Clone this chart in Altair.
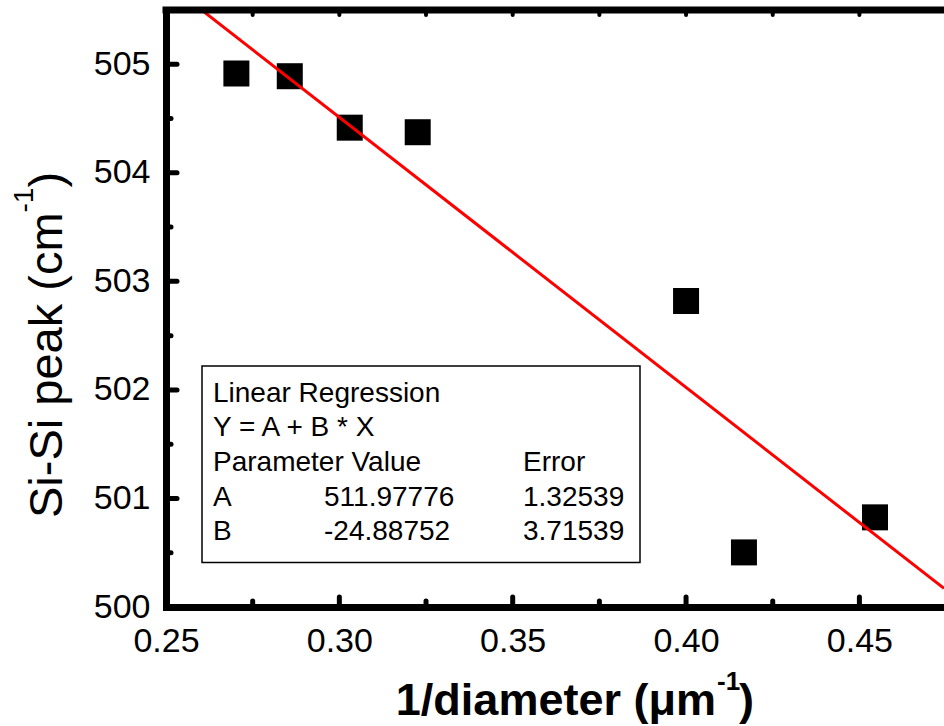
import altair as alt
import pandas as pd

# ---- data ----
inv_diameter = [0.2703, 0.2857, 0.3030, 0.3226, 0.4000, 0.4167, 0.4545]
si_peak = [504.915, 504.890, 504.416, 504.374, 502.819, 500.503, 500.826]

fit_A = 511.97776
fit_B = -24.88752

x_domain = [0.25, 0.4744]
y_domain = [500.0, 505.5]
x_major = [0.25, 0.30, 0.35, 0.40, 0.45]
x_minor = [0.275, 0.325, 0.375, 0.425]
x_top = [0.275, 0.30, 0.325, 0.35, 0.375, 0.40, 0.425, 0.45]
y_major = [500, 501, 502, 503, 504, 505]
y_minor = [500.5, 501.5, 502.5, 503.5, 504.5]

box_col1 = ["Linear Regression", "Y = A + B * X", "Parameter Value", "A", "B"]
box_col2 = ["", "", "", "511.97776", "-24.88752"]
box_col3 = ["", "", "Error", "1.32539", "3.71539"]

x_title_parts = ["1/diameter (\u03bcm", "-1", ")"]
y_title_parts = ["Si-Si peak (cm", "-1", ")"]

FONT = "Liberation Sans"
W, H = 778, 597

pts = pd.DataFrame({"x": inv_diameter, "y": si_peak})
fit = pd.DataFrame({"x": x_domain, "y": [fit_A + fit_B * v for v in x_domain]})
one = pd.DataFrame({"k": [0]})

xscale = alt.Scale(domain=x_domain, nice=False, zero=False)
yscale = alt.Scale(domain=y_domain, nice=False, zero=False)

xaxis = alt.Axis(values=x_major, format=".2f", title=None, ticks=False, tickSize=0,
                 domain=True, domainWidth=7, domainColor="black", domainCap="square",
                 grid=False, labelFont=FONT, labelFontSize=34, labelColor="black",
                 labelPadding=17, labelFlush=False, labelOverlap=False)
yaxis = alt.Axis(values=y_major, format="d", title=None, ticks=False, tickSize=0,
                 domain=True, domainWidth=7, domainColor="black", domainCap="square",
                 grid=False, labelFont=FONT, labelFontSize=34, labelColor="black",
                 labelPadding=16, labelFlush=False, labelOverlap=False)

X = alt.X("x:Q", scale=xscale, axis=xaxis)
Y = alt.Y("y:Q", scale=yscale, axis=yaxis)

points = alt.Chart(pts).mark_square(size=676, color="black", opacity=1).encode(x=X, y=Y)
line = alt.Chart(fit).mark_line(color="#ff0000", strokeWidth=3, clip=True).encode(x=X, y=Y)

# inward ticks
def xticks(vals, y1, y2, width):
    return alt.Chart(pd.DataFrame({"x": vals})).mark_rule(
        color="black", strokeWidth=width, strokeCap="round"
    ).encode(x=X, y=alt.value(y1), y2=alt.value(y2))

def yticks(vals, x1, x2, width):
    return alt.Chart(pd.DataFrame({"y": vals})).mark_rule(
        color="black", strokeWidth=width, strokeCap="round"
    ).encode(y=Y, x=alt.value(x1), x2=alt.value(x2))

bmaj = xticks(x_major, H, H - 10, 5)
bmin = xticks(x_minor, H, H - 6, 5)
lmaj = yticks(y_major, 0, 11, 5)
lmin = yticks(y_minor, 0, 5, 5)
tticks = xticks(x_top, 0, 5, 4)

top_spine = alt.Chart(one).mark_rule(color="black", strokeWidth=7, strokeCap="square").encode(
    x=alt.value(0), x2=alt.value(W), y=alt.value(0))

# regression box
box = alt.Chart(one).mark_rect(fill="white", stroke="black", strokeWidth=1.5).encode(
    x=alt.value(36), x2=alt.value(474), y=alt.value(356), y2=alt.value(552.5))


def txt(s, xpos, ypos, size, weight="normal", align="left", angle=0):
    return alt.Chart(one).mark_text(
        align=align, baseline="alphabetic", font=FONT, fontSize=size,
        fontWeight=weight, angle=angle, color="black"
    ).encode(x=alt.value(xpos), y=alt.value(ypos), text=alt.value(s))

box_layers = []
first_baseline, line_step = 391.7, 34.6
for col, xpos in ((box_col1, 47), (box_col2, 158), (box_col3, 357)):
    for i, s in enumerate(col):
        if s:
            box_layers.append(txt(s, xpos, first_baseline + i * line_step, 28))

# axis titles with superscripts
xt_main = txt(x_title_parts[0], 550, 705, 45, "bold", "right")
xt_sup = txt(x_title_parts[1], 551, 680, 26, "bold", "left")
xt_par = txt(x_title_parts[2], 573, 705, 45, "bold", "left")

ymain_size = 47
y_start = 508
y_main_end = y_start - 6.501 * ymain_size
y_sup_end = y_main_end - 0.889 * 28
yt_main = txt(y_title_parts[0], -104, y_start, ymain_size, "normal", "left", 270)
yt_sup = txt(y_title_parts[1], -133, y_main_end, 28, "normal", "left", 270)
yt_par = txt(y_title_parts[2], -104, y_sup_end, ymain_size, "normal", "left", 270)

chart = alt.layer(
    box, *box_layers, points, line, bmaj, bmin, lmaj, lmin, tticks, top_spine,
    xt_main, xt_sup, xt_par, yt_main, yt_sup, yt_par
).properties(
    width=W, height=H,
    autosize=alt.AutoSizeParams(type="none"),
    padding={"left": 166, "top": 10, "right": 0, "bottom": 119},
    background="white",
).configure_view(stroke=None)

chart.save("out.html", embed_options={"renderer": "svg", "actions": False})
